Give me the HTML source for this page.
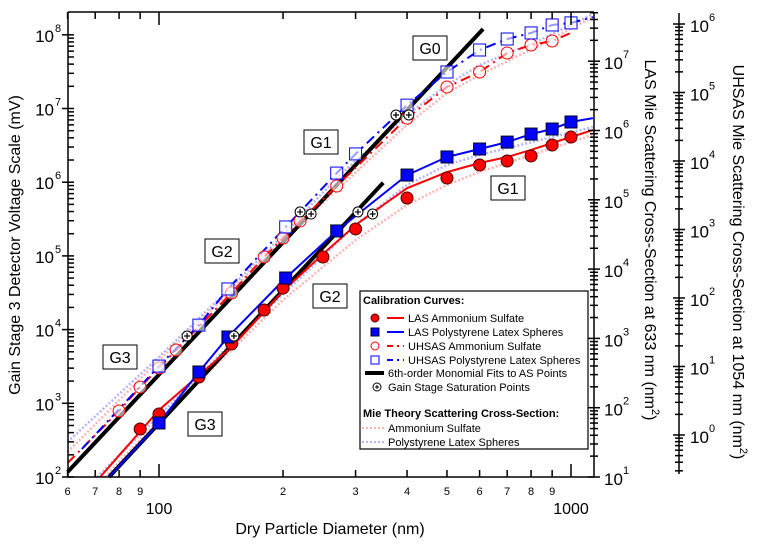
<!DOCTYPE html>
<html><head><meta charset="utf-8"><style>
body{margin:0;background:#fff}
svg{display:block;font-family:"Liberation Sans",Arial,sans-serif}
</style></head><body>
<svg id="chart" width="760" height="547" viewBox="0 0 760 547">
<g id="mie"></g>
<g id="fits"></g>
<g id="lines"></g>
<g id="marks"></g>
<g id="axes"></g>
<g id="labels"></g>
<g id="legend"></g>
</svg>
<script>
// ---- data (diameter nm, left-axis mV unless noted) ----
const lasAsD=[90,100,125,150,180,200,250,300,400,500,600,700,800,900,1000];
const lasAsV=[448,716,2275,6380,18450,36600,96600,232000,611000,1.14e6,1.71e6,1.94e6,2.27e6,3.2e6,4.1e6];
const lasAsCurveD=[72,100,150,200,250,300,350,400,500,600,700,800,900,1000,1130];
const lasAsCurveV=[100,811,5810,33400,1.06e5,2.62e5,4.9e5,8.3e5,1.37e6,1.82e6,2.2e6,2.74e6,3.4e6,4.1e6,5.1e6];
const lasPslD=[100,125,147,203,270,400,500,600,700,800,900,1000];
const lasPslV=[541,2660,7940,50100,2.18e5,1.25e6,2.2e6,2.82e6,3.5e6,4.5e6,5.27e6,6.56e6];
const lasPslCurveD=[75.6,100,125,147,203,270,400,500,600,700,800,900,1000,1130];
const lasPslCurveV=[100,541,2660,7940,50100,2.18e5,1.25e6,2.2e6,2.82e6,3.5e6,4.5e6,5.27e6,6.56e6,7.4e6];
const uhAsD=[80,90,100,110,150,180,200,220,270,400,500,600,700,800,900];
const uhAsV=[787,1660,3010,5280,31400,96600,1.75e5,2.98e5,8.87e5,7.4e6,1.96e7,3.13e7,5.66e7,7.27e7,8.24e7];
const uhAsCurveD=[60,80,90,100,110,150,180,200,220,270,400,500,600,700,800,900,1000];
const uhAsCurveV=[155,787,1660,3010,5280,31400,96600,1.75e5,2.98e5,8.87e5,7.4e6,1.96e7,3.13e7,5.66e7,7.27e7,8.24e7,1.06e8];
const uhPslD=[100,125,147,203,270,300,400,500,600,700,800,900,1000];
const uhPslV=[3200,11500,35600,2.47e5,1.33e6,2.42e6,1.11e7,3.13e7,6.22e7,8.77e7,1.06e8,1.36e8,1.45e8];
const uhPslCurveD=[65,100,125,147,203,270,300,400,500,600,700,800,900,1000,1130];
const uhPslCurveV=[240,3200,11500,35600,2.47e5,1.33e6,2.42e6,1.11e7,3.13e7,6.22e7,8.77e7,1.06e8,1.36e8,1.45e8,1.74e8];
const fitLowD=[75.6,350];
const fitLowV=[100,9.85e5];
const fitHighD=[60,612];
const fitHighV=[117,1.2e8];
const satD=[117,152,220,234,304,330,376,404];
const satV=[8180,8180,3.95e5,3.7e5,3.95e5,3.7e5,8.17e6,8.17e6];
// Mie theory, LAS axis (nm^2)
const mieLasAsD=[74,100,150,200,300,400,500,600,842,1130];
const mieLasAsS=[10,66.5,681,3580,2.63e4,8.4e4,1.64e5,2.52e5,4.9e5,8.6e5];
const mieLasPslD=[70.7,100,150,220,300,400,500,600,842,1130];
const mieLasPslS=[10,76,859,7400,4.33e4,1.64e5,3.18e5,4.43e5,7.3e5,1.12e6];
// Mie theory, UHSAS axis (nm^2)
const mieUhD=[60,100,150,200,270,400,500,600,842,1130];
const mieUhAsS=[0.565,12.4,131,703,3770,3.36e4,9.84e4,1.8e5,4.93e5,1.27e6];
const mieUhPslS=[0.79,13.8,145,832,5650,4.7e4,1.29e5,2.52e5,5.84e5,1.4e6];
const xMinorTicks=[60,70,80,90,100,200,300,400,500,600,700,800,900,1000];
const xTickLabels=["6","7","8","9","","2","3","4","5","6","7","8","9",""];
const leftDecades=[2,3,4,5,6,7,8];
const lasDecades=[1,2,3,4,5,6,7];
const uhDecades=[0,1,2,3,4,5,6];

// ---- axis functions ----
const X=d=>159+412*Math.log10(d/100);
const Y=v=>477-73.7*(Math.log10(v)-2);
const YL=s=>477-69.3*(Math.log10(s)-1);
const YU=s=>435-68.5*Math.log10(s);
const NS="http://www.w3.org/2000/svg";
function mk(tag,attrs,parent){const e=document.createElementNS(NS,tag);for(const k in attrs)e.setAttribute(k,attrs[k]);parent.appendChild(e);return e;}
function pathD(ds,vs,yf){return ds.map((d,i)=>(i?'L':'M')+X(d).toFixed(1)+','+yf(vs[i]).toFixed(1)).join(' ');}
const gm=document.getElementById('mie'),gf=document.getElementById('fits'),gl=document.getElementById('lines'),gk=document.getElementById('marks'),ga=document.getElementById('axes'),gb=document.getElementById('labels'),gg=document.getElementById('legend');

function curve(parent,ds,vs,yf,stroke,w,dash,name){
  const p=mk('path',{d:pathD(ds,vs,yf),fill:'none',stroke:stroke,'stroke-width':w,'stroke-linejoin':'round'},parent);
  if(dash)p.setAttribute('stroke-dasharray',dash);
  
  
}
curve(gm,mieLasAsD,mieLasAsS,YL,'#ffb4b4',2.5,'2,2','mie-las-ammonium-sulfate');
curve(gm,mieLasPslD,mieLasPslS,YL,'#b4b4ff',2.5,'2,2','mie-las-psl');
curve(gm,mieUhD,mieUhAsS,YU,'#ffb4b4',2.5,'2,2','mie-uhsas-ammonium-sulfate');
curve(gm,mieUhD,mieUhPslS,YU,'#b4b4ff',2.5,'2,2','mie-uhsas-psl');
curve(gf,fitLowD,fitLowV,Y,'#000',4,null,'fit-las-as');
curve(gf,fitHighD,fitHighV,Y,'#000',4,null,'fit-uhsas-as');
curve(gl,lasAsCurveD,lasAsCurveV,Y,'#f00',2,null,'line-las-as');
curve(gl,lasPslCurveD,lasPslCurveV,Y,'#0000ff',2,null,'line-las-psl');
curve(gl,uhAsCurveD,uhAsCurveV,Y,'#f00',2,'10,5,2,5','line-uhsas-as');
curve(gl,uhPslCurveD,uhPslCurveV,Y,'#0000ff',2,'10,5,2,5','line-uhsas-psl');

lasAsD.forEach((d,i)=>{const c=mk('circle',{cx:X(d),cy:Y(lasAsV[i]),r:6,fill:'#f00',stroke:'#400','stroke-width':1},gk);

});
lasPslD.forEach((d,i)=>{const c=mk('rect',{x:X(d)-6,y:Y(lasPslV[i])-6,width:12,height:12,fill:'#0000ff',stroke:'#002','stroke-width':1},gk);

});
uhAsD.forEach((d,i)=>{const c=mk('circle',{cx:X(d),cy:Y(uhAsV[i]),r:6,fill:'rgba(255,255,255,0.6)',stroke:'#f00','stroke-width':1},gk);

});
uhPslD.forEach((d,i)=>{const c=mk('rect',{x:X(d)-6,y:Y(uhPslV[i])-6,width:12,height:12,fill:'rgba(255,255,255,0.6)',stroke:'#0000ff','stroke-width':1},gk);

});
function satMark(cx,cy,parent){const g=mk('g',{},parent);
mk('circle',{cx:cx,cy:cy,r:5,fill:'#fff',stroke:'#000','stroke-width':1},g);
mk('path',{d:`M${cx-3},${cy}H${cx+3}M${cx},${cy-3}V${cy+3}`,stroke:'#000','stroke-width':1.2},g);return g;}
satD.forEach((d,i)=>{const g=satMark(X(d),Y(satV[i]),gk);

});

// ---- axes ----
const ax='stroke="#000" stroke-width="1.5"';
let s='';
s+=`<path d="M68,12H594M68,477H594M68,12V477M594,12V477M679,13V474" fill="none" ${ax}/>`;
// x ticks
xMinorTicks.forEach((d,i)=>{const x=X(d);const major=(d===100||d===1000);const L=major?13:7;
s+=`<path d="M${x},477v-${L}M${x},12v${L}" ${ax}/>`;
if(xTickLabels[i])s+=`<text x="${x}" y="495" font-size="11" text-anchor="middle">${xTickLabels[i]}</text>`;});
s+=`<text x="${X(100)}" y="514" font-size="16" text-anchor="middle">100</text>`;
s+=`<text x="${X(1000)}" y="514" font-size="16" text-anchor="middle">1000</text>`;
// left ticks
leftDecades.forEach(k=>{const y=Y(Math.pow(10,k));s+=`<path d="M62,${y}h12" ${ax}/>`;
s+=`<text x="54" y="${y+7}" font-size="17" text-anchor="end">10</text><text x="55" y="${y-3}" font-size="11">${k}</text>`;
if(k<8)for(let m=2;m<10;m++){const ym=Y(m*Math.pow(10,k));if(ym>=12)s+=`<path d="M68,${ym}h6" ${ax}/>`;}});
s+=`<path d="M68,${Y(200)}h0" />`;
// LAS ticks
for(let k=1;k<=7;k++){const y=YL(Math.pow(10,k));s+=`<path d="M588,${y}h12" ${ax}/>`;
s+=`<text x="604" y="${y+8}" font-size="17">10</text><text x="623" y="${y-3}" font-size="11">${k}</text>`;
for(let m=2;m<10;m++){const ym=YL(m*Math.pow(10,k));if(ym>=12)s+=`<path d="M590,${ym}h8" ${ax}/>`;}}
// UHSAS ticks
for(let k=-1;k<=6;k++){const y=YU(Math.pow(10,k));
if(k>=0){s+=`<path d="M673,${y}h12" ${ax}/>`;
s+=`<text x="690" y="${y+8}" font-size="17">10</text><text x="709" y="${y-3}" font-size="11">${k}</text>`;}
for(let m=2;m<10;m++){const ym=YU(m*Math.pow(10,k));if(ym>=13&&ym<=474)s+=`<path d="M675,${ym}h8" ${ax}/>`;}}
// titles
s+=`<text x="330" y="534" font-size="16" text-anchor="middle">Dry Particle Diameter (nm)</text>`;
s+=`<text transform="translate(20,245) rotate(-90)" font-size="16" text-anchor="middle">Gain Stage 3 Detector Voltage Scale (mV)</text>`;
s+=`<text transform="translate(645,240) rotate(90)" font-size="16" text-anchor="middle">LAS Mie Scattering Cross-Section at 633 nm (nm<tspan dy="-7" font-size="11">2</tspan><tspan dy="7">)</tspan></text>`;
s+=`<text transform="translate(733,262) rotate(90)" font-size="16" text-anchor="middle">UHSAS Mie Scattering Cross-Section at 1054 nm (nm<tspan dy="-7" font-size="11">2</tspan><tspan dy="7">)</tspan></text>`;
ga.innerHTML=s;

// gain labels
const gains=[["G0",430,48],["G1",321,142],["G2",222,251],["G3",120,357],["G3",205,424],["G2",330,296],["G1",508,188]];
let t='';
gains.forEach(g=>{t+=`<g><rect x="${g[1]-17}" y="${g[2]-12}" width="34" height="24" fill="#fff" stroke="#000" stroke-width="1"/><text x="${g[1]}" y="${g[2]+6}" font-size="16" text-anchor="middle">${g[0]}</text></g>`;});
gb.innerHTML=t;

// legend
let L=`<rect x="360" y="291" width="228" height="158" fill="#fff" stroke="#000" stroke-width="1.2"/>`;
L+=`<text x="363" y="304" font-size="11" font-weight="bold">Calibration Curves:</text>`;
const rows=[[318,'LAS Ammonium Sulfate'],[332,'LAS Polystyrene Latex Spheres'],[346,'UHSAS Ammonium Sulfate'],[360,'UHSAS Polystyrene Latex Spheres']];
rows.forEach((r,i)=>{const y=r[0];const col=i%2?'#0000ff':'#f00';
if(i==0)L+=`<circle cx="375" cy="${y}" r="4" fill="#f00" stroke="#400"/>`;
if(i==1)L+=`<rect x="371" y="${y-4}" width="8" height="8" fill="#0000ff" stroke="#002"/>`;
if(i==2)L+=`<circle cx="375" cy="${y}" r="4" fill="#fff" stroke="#f00"/>`;
if(i==3)L+=`<rect x="371" y="${y-4}" width="8" height="8" fill="#fff" stroke="#0000ff"/>`;
L+=`<path d="M387,${y}H404" stroke="${col}" stroke-width="2" ${i>1?'stroke-dasharray="6,4,2,4"':''}/>`;
L+=`<text x="408" y="${y+4}" font-size="11">${r[1]}</text>`;});
L+=`<path d="M365,373H384" stroke="#000" stroke-width="4"/><text x="388" y="377" font-size="11">6th-order Monomial Fits to AS Points</text>`;
L+=`<circle cx="377" cy="387" r="4" fill="#fff" stroke="#000"/><path d="M375,387h4M377,385v4" stroke="#000"/><text x="388" y="391" font-size="11">Gain Stage Saturation Points</text>`;
L+=`<text x="363" y="417" font-size="11" font-weight="bold">Mie Theory Scattering Cross-Section:</text>`;
L+=`<path d="M362,428H385" stroke="#ffb4b4" stroke-width="2" stroke-dasharray="2,2"/><text x="388" y="432" font-size="11">Ammonium Sulfate</text>`;
L+=`<path d="M362,442H385" stroke="#b4b4ff" stroke-width="2" stroke-dasharray="2,2"/><text x="388" y="446" font-size="11">Polystyrene Latex Spheres</text>`;
gg.innerHTML=L;
</script>
</body></html>
